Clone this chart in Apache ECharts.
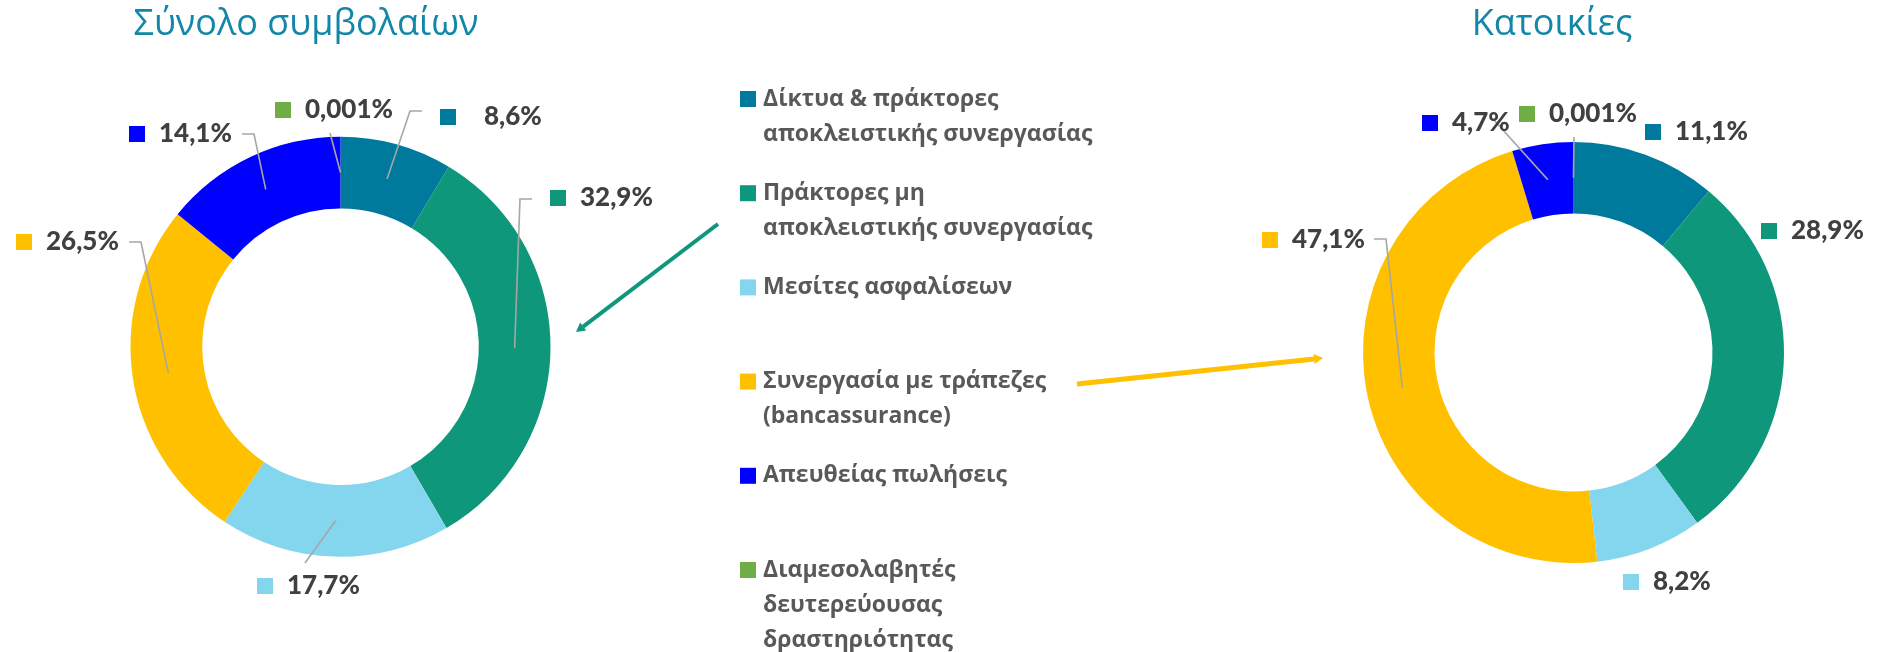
<!DOCTYPE html>
<html>
  <head>
    <meta charset="UTF-8" />
    <title>Κανάλια διανομής</title>
    <style>
      html, body { margin: 0; padding: 0; background: #fff; }
      #chart { width: 1881px; height: 652px; }
    </style>
    <script src="https://cdn.jsdelivr.net/npm/echarts@6/dist/echarts.min.js"></script>
  </head>
  <body>
    <div id="chart"></div>
    <script>
      // κατηγορίες και μερίδια (%)
      const categories = [
        'Δίκτυα & πράκτορες αποκλειστικής συνεργασίας',
        'Πράκτορες μη αποκλειστικής συνεργασίας',
        'Μεσίτες ασφαλίσεων',
        'Συνεργασία με τράπεζες (bancassurance)',
        'Απευθείας πωλήσεις',
        'Διαμεσολαβητές δευτερεύουσας δραστηριότητας'
      ];
      const legendLabels = [
        'Δίκτυα & πράκτορες\nαποκλειστικής συνεργασίας',
        'Πράκτορες μη\nαποκλειστικής συνεργασίας',
        'Μεσίτες ασφαλίσεων',
        'Συνεργασία με τράπεζες\n(bancassurance)',
        'Απευθείας πωλήσεις',
        'Διαμεσολαβητές\nδευτερεύουσας\nδραστηριότητας'
      ];
      const totalShares = [8.6, 32.9, 17.7, 26.5, 14.1, 0.001];
      const homeShares = [11.1, 28.9, 8.2, 47.1, 4.7, 0.001];
      const titles = ['Σύνολο συμβολαίων', 'Κατοικίες'];
      const colors = ['#007A9C', '#0E977A', '#83D6ED', '#FFC000', '#0000FF', '#70AD47'];

      // θέσεις ετικετών: αριστερή άκρη τετραγώνου, κέντρο y, σημεία γραμμής
      const leftLabelPos = [
        { x: 440, y: 117, gap: 28, elbow: [410, 111], end: [422, 111] },
        { x: 550, y: 198, elbow: [520, 199], end: [532, 199] },
        { x: 257, y: 586, end: [305, 563] },
        { x: 16, y: 242, elbow: [141, 242], end: [129, 242] },
        { x: 129, y: 134, elbow: [254, 134], end: [242, 134] },
        { x: 275, y: 110, end: [330, 133] }
      ];
      const rightLabelPos = [
        { x: 1645, y: 132, noLine: true },
        { x: 1761, y: 231, noLine: true },
        { x: 1623, y: 582, noLine: true },
        { x: 1262, y: 240, elbow: [1386, 239], end: [1374, 239] },
        { x: 1422, y: 123, end: [1493, 119] },
        { x: 1519, y: 114, end: [1574, 137] }
      ];

      const fmt = v => String(v).replace('.', ',') + '%';

      const rich = { v: { fontFamily: 'Lato', fontWeight: 900, fontSize: 26, color: '#404040' } };
      colors.forEach((c, i) => {
        rich['s' + i] = { width: 16, height: 16, backgroundColor: c };
      });
      rich.gap = { width: 14, height: 16 };
      rich.gapWide = { width: 28, height: 16 };

      // δακτύλιος: μία σειρά για τα τμήματα και μία διάφανη από πάνω για ετικέτες και γραμμές
      function makePies(values, center, radius, pos) {
        const rMid = (radius[0] + radius[1]) / 2;
        const base = {
          type: 'pie',
          center: center,
          radius: radius,
          startAngle: 90,
          clockwise: true,
          avoidLabelOverlap: false,
          animation: false,
          emphasis: { disabled: true }
        };
        const ring = Object.assign({}, base, {
          z: 2,
          silent: true,
          label: { show: false },
          labelLine: { show: false },
          data: values.map((v, i) => ({ name: categories[i], value: v, itemStyle: { color: colors[i] } }))
        });
        const labels = Object.assign({}, base, {
          z: 3,
          silent: true,
          itemStyle: { color: 'rgba(0,0,0,0)' },
          data: values.map((v, i) => ({
            name: categories[i],
            value: v,
            labelLine: { show: !pos[i].noLine }
          })),
          label: {
            show: true,
            position: 'outside',
            formatter: p => '{s' + p.dataIndex + '|}{' + (pos[p.dataIndex].gap ? 'gapWide' : 'gap') + '|}{v|' + fmt(p.value) + '}',
            rich: rich
          },
          labelLine: {
            show: true,
            length: 20,
            length2: 10,
            lineStyle: { color: '#A6A6A6', width: 1.6 }
          },
          labelLayout: function (params) {
            const p = pos[params.dataIndex];
            const out = { x: p.x, y: p.y, align: 'left', verticalAlign: 'middle' };
            if (params.labelLinePoints && !p.noLine) {
              const p0 = params.labelLinePoints[0];
              const k = rMid / radius[1];
              const start = [center[0] + (p0[0] - center[0]) * k, center[1] + (p0[1] - center[1]) * k];
              out.labelLinePoints = [start, p.elbow || p.end, p.end];
            }
            return out;
          }
        });
        return [ring, labels];
      }

      // τίτλοι, υπόμνημα, βέλη
      const graphics = [];
      [306, 1552].forEach((cx, i) => {
        graphics.push({
          type: 'text', x: cx, y: 25,
          style: {
            text: titles[i], fill: '#1387A8', font: '36px "Open Sans"',
            textAlign: 'center', textVerticalAlign: 'middle'
          }
        });
      });
      legendLabels.forEach((t, i) => {
        const cy = 99 + i * 94.2;
        graphics.push({ type: 'rect', shape: { x: 740, y: cy - 8, width: 16, height: 16 }, style: { fill: colors[i] } });
        graphics.push({
          type: 'text', x: 763, y: cy - 17.5,
          style: {
            text: t, fill: '#595959', font: 'bold 23px "Open Sans"',
            lineHeight: 35, textVerticalAlign: 'top'
          }
        });
      });
      function arrow(from, to, color, w) {
        const dx = to[0] - from[0], dy = to[1] - from[1];
        const len = Math.sqrt(dx * dx + dy * dy);
        const ux = dx / len, uy = dy / len;
        const hl = 9, hw = 5;
        const b = [to[0] - ux * hl, to[1] - uy * hl];
        graphics.push({ type: 'line', shape: { x1: from[0], y1: from[1], x2: b[0], y2: b[1] }, style: { stroke: color, lineWidth: w } });
        graphics.push({
          type: 'polygon',
          shape: { points: [to, [b[0] - uy * hw, b[1] + ux * hw], [b[0] + uy * hw, b[1] - ux * hw]] },
          style: { fill: color }
        });
      }
      arrow([718, 224], [576, 332], '#0E977A', 4);
      arrow([1077, 384], [1323, 358], '#FFC000', 5);

      const chart = echarts.init(document.getElementById('chart'));
      chart.setOption({
        animation: false,
        backgroundColor: '#fff',
        graphic: graphics,
        series: [].concat(
          makePies(totalShares, [340.5, 346.7], [138.3, 210], leftLabelPos),
          makePies(homeShares, [1573.5, 352.5], [139, 210.5], rightLabelPos)
        )
      });
    </script>
  </body>
</html>
